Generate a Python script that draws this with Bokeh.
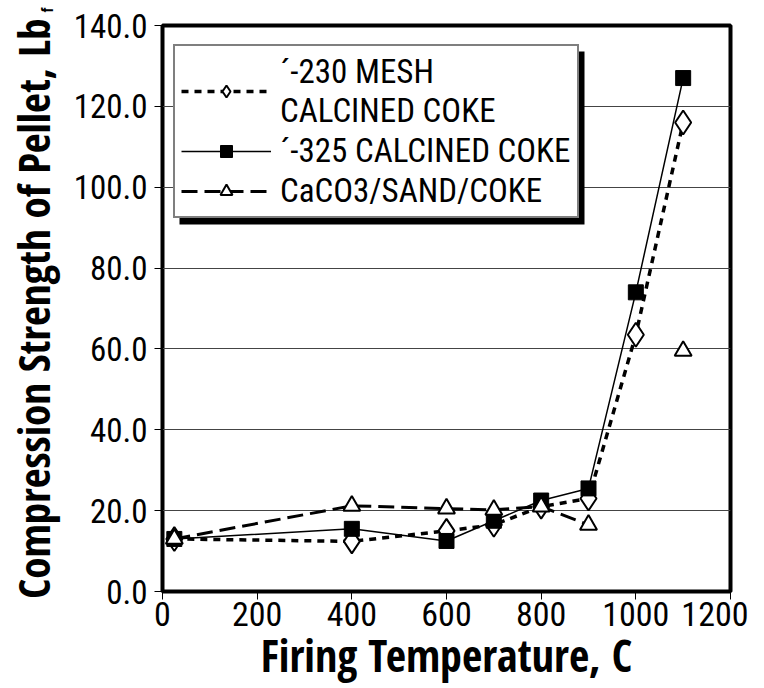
import math
from bokeh.plotting import figure
from bokeh.models import (Legend, LegendItem, FixedTicker, NumeralTickFormatter,
                          BoxAnnotation, Label, Range1d)
from bokeh.embed import file_html
from bokeh.resources import INLINE

# ---- data ----
temps = [25, 400, 600, 700, 800, 900, 1000, 1100]
mesh230 = [13, 12.4, 15, 16.5, 21, 23, 63.5, 116]
mesh325 = [13, 15.5, 12.5, 17.5, 22.5, 25.5, 74, 127]
tri_temps = [25, 400, 600, 700, 800, 900, 1100]
caco3 = [13, 21.2, 20.5, 20.2, 21, 16.5, 59.5]
x_ticks = [0, 200, 400, 600, 800, 1000, 1200]
y_ticks = [0, 20, 40, 60, 80, 100, 120, 140]

TICKF = "Roboto Condensed"
TITLEF = "Open Sans Condensed"

p = figure(width=748, height=688, output_backend="svg", toolbar_location=None,
           x_range=Range1d(0, 1200), y_range=Range1d(0, 140),
           min_border_left=155, min_border_right=18, min_border_top=25,
           min_border_bottom=97)

p.outline_line_color = "black"
p.outline_line_width = 4
p.xgrid.grid_line_color = None
p.ygrid.grid_line_color = "#444444"
p.ygrid.grid_line_width = 1

for ax in (p.xaxis[0], p.yaxis[0]):
    ax.axis_line_color = None
    ax.major_tick_in = 0
    ax.major_tick_out = 8
    ax.major_tick_line_color = "black"
    ax.minor_tick_line_color = None
    ax.major_label_text_font = TICKF
    ax.major_label_text_color = "black"
    ax.axis_label_text_font = TITLEF
    ax.axis_label_text_font_style = "bold"
    ax.axis_label_text_color = "black"

p.xaxis.ticker = FixedTicker(ticks=x_ticks)
p.yaxis.ticker = FixedTicker(ticks=y_ticks)
p.yaxis.formatter = NumeralTickFormatter(format="0.0")
p.xaxis.major_label_text_font_size = "34px"
p.yaxis.major_label_text_font_size = "33px"
p.xaxis.axis_label = "Firing Temperature, C"
p.xaxis.axis_label_text_font_size = "44px"
p.xaxis.major_label_standoff = 2
p.xaxis.axis_label_standoff = -4
p.yaxis.axis_label = "Compression Strength of Pellet, Lb"
p.yaxis.axis_label_text_font_size = "43px"
p.yaxis.major_label_standoff = 7
p.yaxis.axis_label_standoff = 8

# ---- series ----
l1 = p.line(temps, mesh230, line_color="black", line_width=3.5, line_dash="7 6")
m1 = p.scatter(temps, mesh230, marker="diamond", size=24, fill_color="white",
               line_color="black", line_width=2)
l2 = p.line(temps, mesh325, line_color="black", line_width=1.5)
m2 = p.scatter(temps, mesh325, marker="square", size=15, fill_color="black",
               line_color="black")
l3 = p.line(tri_temps[:6], caco3[:6], line_color="black", line_width=3, line_dash="16 7")
m3 = p.scatter(tri_temps, caco3, marker="triangle", size=17, fill_color="white",
               line_color="black", line_width=2)

# legend geometry (screen px, relative to frame bottom-left)
LW, LH = 405, 173
LX, LTOP = 11, 546
shadow = BoxAnnotation(left=LX + 6, right=LX + LW + 6, top=LTOP - 6, bottom=LTOP - LH - 6,
                       left_units="screen", right_units="screen",
                       top_units="screen", bottom_units="screen",
                       fill_color="black", fill_alpha=1, line_color=None)
p.add_layout(shadow)

legend = Legend(items=[
    LegendItem(label="\u00b4-230 MESH\nCALCINED COKE", renderers=[l1, m1]),
    LegendItem(label="\u00b4-325 CALCINED COKE", renderers=[l2, m2]),
    LegendItem(label="CaCO3/SAND/COKE", renderers=[l3, m3]),
], location=(LX, LTOP - LH))
legend.label_text_font = TICKF
legend.label_text_font_size = "33px"
legend.label_text_color = "black"
legend.label_text_line_height = 0.9
legend.glyph_width = 90
legend.glyph_height = 30
legend.label_standoff = 9
legend.spacing = 1
legend.padding = 6
legend.margin = 0
legend.border_line_color = "black"
legend.border_line_width = 2
legend.background_fill_color = "white"
legend.background_fill_alpha = 1
p.add_layout(legend)

# subscript of the y-axis unit, drawn in a side panel so it is not clipped
p.add_layout(Label(x=-220, y=143.2, text="f", angle=math.pi / 2,
                   text_font=TITLEF, text_font_style="bold",
                   text_font_size="16px", text_color="black"), "above")

open("out.html", "w").write(file_html(p, INLINE))
